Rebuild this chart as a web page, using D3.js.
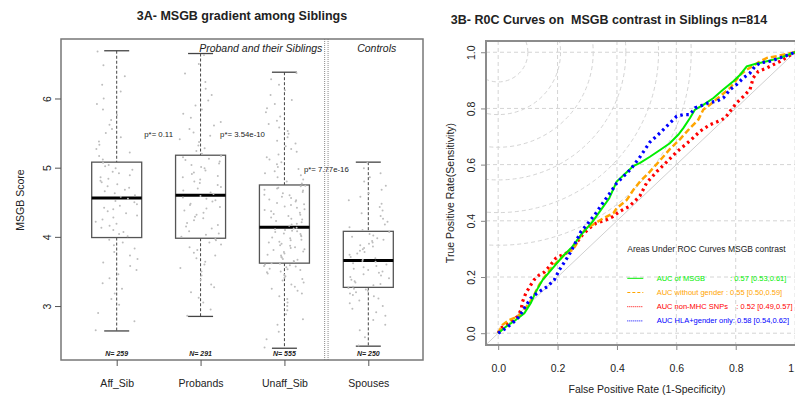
<!DOCTYPE html>
<html>
<head>
<meta charset="utf-8">
<script src="https://cdn.jsdelivr.net/npm/d3@7"></script>
<style>
body { margin: 0; background: #fff; }
text { font-family: "Liberation Sans", Arial, sans-serif; fill: #222; }
</style>
</head>
<body>
<svg id="chart" width="795" height="399"></svg>
<script>
// ---- 3A data (box stats) ----
const groups = ["Aff_Sib", "Probands", "Unaff_Sib", "Spouses"];
const groupN = [259, 291, 555, 250];
const whiskLo = [2.64, 2.85, 2.39, 2.42];
const q1 = [3.99, 3.98, 3.62, 3.27];
const med = [4.56, 4.60, 4.14, 3.66];
const q3 = [5.08, 5.18, 4.75, 4.08];
const whiskHi = [6.69, 6.65, 6.38, 5.08];
const pLabels = ["p*= 0.11", "p*= 3.54e-10", "p*= 7.77e-16"];
const pY = [5.48, 5.48, 4.98];
const scoreTicks = [3, 4, 5, 6];

// jittered scores (estimated, a sample of each group)
const affScores = [2.65,2.78,2.9,3.02,3.1,3.18,3.25,3.33,3.4,3.46,3.52,3.58,3.63,3.68,3.73,3.78,3.83,3.88,3.92,3.96,
  4.01,4.04,4.07,4.1,4.13,4.16,4.19,4.22,4.25,4.28,4.31,4.34,4.37,4.4,4.42,4.45,4.47,4.5,4.52,4.55,
  4.58,4.6,4.63,4.66,4.68,4.71,4.73,4.76,4.79,4.81,4.84,4.86,4.89,4.92,4.94,4.97,4.99,5.02,5.04,5.07,
  5.12,5.17,5.22,5.27,5.33,5.38,5.44,5.5,5.56,5.62,5.69,5.76,5.84,5.92,6.0,6.1,6.2,6.32,6.48,6.68];
const probScores = [2.86,2.95,3.05,3.12,3.2,3.27,3.31,3.38,3.44,3.5,3.55,3.6,3.64,3.69,3.73,3.77,3.81,3.85,3.89,3.92,3.95,3.97,
  4.0,4.03,4.05,4.08,4.12,4.15,4.17,4.2,4.24,4.27,4.29,4.32,4.35,4.38,4.41,4.43,4.46,4.48,4.51,4.53,4.55,4.57,4.59,
  4.62,4.64,4.67,4.7,4.72,4.75,4.78,4.8,4.83,4.86,4.88,4.91,4.93,4.96,4.99,5.01,5.04,5.06,5.09,5.11,5.13,5.15,5.17,
  5.2,5.24,5.28,5.32,5.37,5.41,5.46,5.51,5.56,5.61,5.66,5.72,5.78,5.84,5.9,5.97,6.05,6.14,6.24,6.36,6.5,6.63];
const unaffScores = [2.4,2.52,2.63,2.73,2.81,2.88,2.94,3.0,3.05,3.1,3.14,3.18,3.22,3.25,3.28,3.31,3.34,3.37,3.39,3.41,3.43,3.45,3.47,3.49,3.5,3.52,3.53,3.54,3.56,3.57,3.58,3.59,3.6,3.61,3.62,
  3.64,3.65,3.67,3.68,3.7,3.71,3.73,3.74,3.76,3.78,3.79,3.81,3.82,3.84,3.85,3.87,3.88,3.9,3.92,3.93,3.95,3.96,3.98,3.99,4.01,4.02,4.04,4.05,4.07,4.08,4.09,4.1,4.11,4.12,4.13,
  4.16,4.18,4.19,4.21,4.23,4.25,4.26,4.28,4.3,4.32,4.33,4.35,4.37,4.39,4.4,4.42,4.44,4.46,4.47,4.49,4.51,4.53,4.54,4.56,4.58,4.6,4.61,4.63,4.65,4.67,4.68,4.7,4.71,4.73,4.74,
  4.77,4.8,4.83,4.86,4.89,4.92,4.95,4.98,5.01,5.05,5.08,5.12,5.15,5.19,5.23,5.27,5.31,5.35,5.39,5.44,5.49,5.53,5.58,5.63,5.68,5.74,5.8,5.86,5.92,5.98,6.05,6.12,6.2,6.28,6.37];
const spouseScores = [2.43,2.55,2.65,2.73,2.8,2.86,2.91,2.96,3.0,3.04,3.08,3.11,3.14,3.16,3.18,3.2,3.22,3.24,3.25,3.26,
  3.28,3.3,3.32,3.34,3.36,3.38,3.4,3.42,3.44,3.46,3.48,3.5,3.52,3.54,3.56,3.58,3.6,3.62,3.64,3.65,
  3.67,3.69,3.71,3.74,3.76,3.78,3.8,3.82,3.84,3.86,3.88,3.9,3.92,3.94,3.96,3.98,4.0,4.02,4.04,4.07,
  4.1,4.14,4.18,4.22,4.26,4.3,4.34,4.38,4.43,4.48,4.53,4.58,4.63,4.68,4.74,4.8,4.86,4.92,4.99,5.07];

// ---- 3B data (ROC points, [fpr, tpr]) ----
const rocMSGB = [[0,0],[.026,.023],[.059,.047],[.088,.071],[.11,.107],[.127,.148],[.15,.19],[.183,.231],[.217,.273],[.25,.308],
  [.279,.35],[.318,.397],[.346,.439],[.374,.48],[.399,.54],[.43,.57],[.455,.595],[.478,.606],[.511,.628],[.545,.652],[.578,.676],
  [.607,.707],[.624,.731],[.646,.766],[.663,.796],[.691,.813],[.725,.837],[.758,.867],[.792,.897],[.815,.92],[.837,.95],
  [.865,.958],[.905,.968],[.95,.98],[.994,.998],[1,1]];
const rocNoGender = [[0,0],[.015,.03],[.037,.047],[.065,.059],[.082,.077],[.105,.107],[.121,.136],[.138,.172],[.161,.207],[.183,.237],
  [.206,.261],[.228,.285],[.25,.296],[.262,.314],[.273,.338],[.296,.374],[.309,.38],[.354,.409],[.388,.427],[.399,.445],[.433,.474],
  [.455,.51],[.478,.54],[.511,.575],[.545,.615],[.578,.655],[.612,.69],[.646,.73],[.674,.76],[.691,.796],[.713,.813],[.747,.843],
  [.781,.873],[.815,.92],[.837,.938],[.865,.956],[.882,.968],[.905,.98],[.938,.986],[.972,.994],[1,1]];
const rocNonMHC = [[0,0],[.009,.018],[.026,.03],[.048,.047],[.065,.059],[.077,.083],[.082,.112],[.093,.142],[.11,.172],[.121,.19],
  [.138,.207],[.155,.217],[.172,.237],[.194,.267],[.217,.279],[.239,.29],[.267,.326],[.284,.35],[.307,.374],[.329,.391],[.363,.403],
  [.386,.415],[.408,.433],[.441,.451],[.464,.474],[.478,.49],[.5,.535],[.534,.575],[.568,.61],[.601,.645],[.646,.685],[.68,.719],
  [.713,.742],[.741,.754],[.764,.766],[.781,.79],[.803,.82],[.826,.843],[.848,.867],[.859,.909],[.876,.932],[.905,.944],
  [.927,.956],[.95,.968],[.972,.982],[1,1]];
const rocHLA = [[0,0],[.026,.018],[.048,.036],[.071,.059],[.088,.089],[.11,.125],[.138,.148],[.166,.166],[.189,.19],[.206,.225],
  [.228,.261],[.245,.29],[.262,.326],[.279,.362],[.298,.385],[.329,.427],[.352,.463],[.38,.504],[.399,.534],[.444,.581],[.478,.628],
  [.511,.68],[.545,.713],[.578,.748],[.601,.772],[.624,.778],[.646,.778],[.663,.802],[.68,.808],[.708,.82],[.736,.826],[.758,.837],
  [.781,.867],[.803,.885],[.826,.909],[.848,.926],[.865,.95],[.882,.962],[.916,.968],[.95,.98],[.983,.993],[1,1]];
const rocLabels = ["AUC of MSGB            : 0.57 [0.53,0.61]",
                   "AUC without gender : 0.55 [0.50,0.59]",
                   "AUC non-MHC SNPs    : 0.52 [0.49,0.57]",
                   "AUC HLA+gender only: 0.58 [0.54,0.62]"];
const rocTicks = [0, 0.2, 0.4, 0.6, 0.8, 1];
const isoRadii = [0.1, 0.21, 0.32, 0.43, 0.54, 0.65];

const svg = d3.select("#chart");

// =============== 3A boxplot ===============
const left = {x0: 61, x1: 423, y0: 39, y1: 360};
const x = d3.scalePoint().domain(groups).range([116.7, 368.3]);
const y = d3.scaleLinear().domain([2.22, 6.86]).range([left.y1, left.y0]);
const groupScores = [affScores, probScores, unaffScores, spouseScores];

// horizontal scatter of the dots (layout only, like R's jitter)
const spread = (i, g) => {
  const s = Math.sin(i * 12.9898 + g * 78.233) * 43758.5453;
  return s - Math.floor(s) - 0.5;
};

svg.append("text")
  .attr("x", 242).attr("y", 19.5)
  .attr("text-anchor", "middle")
  .style("font-size", "12.5px").style("font-weight", "bold")
  .text("3A- MSGB gradient among Siblings");

const boxes = svg.append("g").selectAll("g")
  .data(groups)
  .enter().append("g");

// whiskers
boxes.append("line")
  .attr("x1", d => x(d)).attr("x2", d => x(d))
  .attr("y1", (d, i) => y(whiskHi[i])).attr("y2", (d, i) => y(q3[i]))
  .attr("stroke", "#444").attr("stroke-dasharray", "3,2");
boxes.append("line")
  .attr("x1", d => x(d)).attr("x2", d => x(d))
  .attr("y1", (d, i) => y(q1[i])).attr("y2", (d, i) => y(whiskLo[i]))
  .attr("stroke", "#444").attr("stroke-dasharray", "3,2");
boxes.append("line")
  .attr("x1", d => x(d) - 12.5).attr("x2", d => x(d) + 12.5)
  .attr("y1", (d, i) => y(whiskHi[i])).attr("y2", (d, i) => y(whiskHi[i]))
  .attr("stroke", "#444").attr("stroke-width", 1.3);
boxes.append("line")
  .attr("x1", d => x(d) - 12.5).attr("x2", d => x(d) + 12.5)
  .attr("y1", (d, i) => y(whiskLo[i])).attr("y2", (d, i) => y(whiskLo[i]))
  .attr("stroke", "#444").attr("stroke-width", 1.3);
boxes.append("rect")
  .attr("x", d => x(d) - 25).attr("width", 50)
  .attr("y", (d, i) => y(q3[i]))
  .attr("height", (d, i) => y(q1[i]) - y(q3[i]))
  .attr("fill", "none").attr("stroke", "#555").attr("stroke-width", 1.3);
boxes.append("line")
  .attr("x1", d => x(d) - 25).attr("x2", d => x(d) + 25)
  .attr("y1", (d, i) => y(med[i])).attr("y2", (d, i) => y(med[i]))
  .attr("stroke", "#000").attr("stroke-width", 3);

// jitter dots on top of the boxes
groupScores.forEach((scores, g) => {
  svg.append("g").selectAll("circle")
    .data(scores)
    .enter().append("circle")
    .attr("cx", (d, i) => x(groups[g]) + spread(i, g) * 42)
    .attr("cy", d => y(d))
    .attr("r", 1)
    .attr("fill", "#bdbdbd");
});

boxes.append("text")
  .attr("x", d => x(d)).attr("y", left.y1 - 6.7)
  .attr("text-anchor", "middle").attr("dominant-baseline", "central")
  .style("font-size", "7px").style("font-weight", "bold").style("font-style", "italic")
  .text((d, i) => "N= " + groupN[i]);

// p-values between neighbouring groups
svg.append("g").selectAll("text")
  .data(pLabels)
  .enter().append("text")
  .attr("x", (d, i) => (x(groups[i]) + x(groups[i + 1])) / 2)
  .attr("y", (d, i) => y(pY[i]))
  .attr("text-anchor", "middle").attr("dominant-baseline", "central")
  .style("font-size", "7.8px")
  .text(d => d);

// separator between siblings and controls
const sepX = (x(groups[2]) + x(groups[3])) / 2;
[-1.7, 1.7].forEach(o => {
  svg.append("line")
    .attr("x1", sepX + o).attr("x2", sepX + o)
    .attr("y1", left.y0).attr("y2", left.y1)
    .attr("stroke", "#888").attr("stroke-dasharray", "1,1");
});
svg.append("text")
  .attr("x", sepX - 4).attr("y", 47.7)
  .attr("text-anchor", "end").attr("dominant-baseline", "central")
  .style("font-size", "10.5px").style("font-style", "italic")
  .text("Proband and their Siblings");
svg.append("text")
  .attr("x", (sepX + left.x1) / 2 + 2).attr("y", 47.7)
  .attr("text-anchor", "middle").attr("dominant-baseline", "central")
  .style("font-size", "10.5px").style("font-style", "italic")
  .text("Controls");

// frame
svg.append("rect")
  .attr("x", left.x0).attr("y", left.y0)
  .attr("width", left.x1 - left.x0).attr("height", left.y1 - left.y0)
  .attr("fill", "none").attr("stroke", "#777").attr("stroke-width", 1.5);

// axes
const yAxis = svg.append("g")
  .attr("transform", `translate(${left.x0},0)`)
  .call(d3.axisLeft(y).tickValues(scoreTicks).tickSize(6).tickFormat(d3.format("d")));
yAxis.select(".domain").remove();
yAxis.selectAll(".tick line").attr("stroke", "#555");
yAxis.selectAll(".tick text")
  .attr("transform", "rotate(-90)")
  .attr("x", 0).attr("y", -14.3).attr("dy", null)
  .attr("text-anchor", "middle").attr("dominant-baseline", "central")
  .style("font-size", "10.5px").style("font-family", null).attr("fill", "#222");

const xAxis = svg.append("g")
  .attr("transform", `translate(0,${left.y1})`)
  .call(d3.axisBottom(x).tickSize(6).tickPadding(14));
xAxis.select(".domain").remove();
xAxis.selectAll(".tick line").attr("stroke", "#555");
xAxis.selectAll(".tick text")
  .style("font-size", "10.5px").style("font-family", null).attr("fill", "#222");

svg.append("text")
  .attr("transform", "translate(20,200) rotate(-90)")
  .attr("text-anchor", "middle").attr("dominant-baseline", "central")
  .style("font-size", "10.5px")
  .text("MSGB Score");

// =============== 3B ROC ===============
const right = {x0: 486, x1: 807, y0: 41, y1: 345};
const fx = d3.scaleLinear().domain([-0.041, 1.04]).range([right.x0, right.x1]);
const fy = d3.scaleLinear().domain([-0.042, 1.04]).range([right.y1, right.y0]);

svg.append("text")
  .attr("x", 609).attr("y", 23.5)
  .attr("text-anchor", "middle")
  .style("font-size", "12.5px").style("font-weight", "bold")
  .style("white-space", "pre")
  .text("3B- R0C Curves on  MSGB contrast in Siblings n=814");

svg.append("clipPath").attr("id", "rocClip")
  .append("rect")
  .attr("x", right.x0).attr("y", right.y0)
  .attr("width", right.x1 - right.x0).attr("height", right.y1 - right.y0);

const plot = svg.append("g").attr("clip-path", "url(#rocClip)");

// grid
plot.selectAll(".vgrid")
  .data(rocTicks)
  .enter().append("line")
  .attr("x1", d => fx(d)).attr("x2", d => fx(d))
  .attr("y1", right.y0).attr("y2", right.y1)
  .attr("stroke", "#d4d4d4").attr("stroke-dasharray", "4,3");
plot.selectAll(".hgrid")
  .data(rocTicks)
  .enter().append("line")
  .attr("x1", right.x0).attr("x2", right.x1)
  .attr("y1", d => fy(d)).attr("y2", d => fy(d))
  .attr("stroke", "#d4d4d4").attr("stroke-dasharray", "4,3");
plot.selectAll(".iso")
  .data(isoRadii)
  .enter().append("circle")
  .attr("cx", fx(0)).attr("cy", fy(1))
  .attr("r", d => fx(d) - fx(0))
  .attr("fill", "none")
  .attr("stroke", "#d4d4d4").attr("stroke-dasharray", "4,3");

// chance diagonal
plot.append("line")
  .attr("x1", fx(-0.05)).attr("y1", fy(-0.05))
  .attr("x2", fx(1.05)).attr("y2", fy(1.05))
  .attr("stroke", "#d0d0d0").attr("stroke-width", 1);

const rocSeries = [
  {pts: rocMSGB, color: "#00ee00", dash: null, width: 2, legDash: null},
  {pts: rocNoGender, color: "#ffa500", dash: "6,3", width: 2.5, legDash: "3,2"},
  {pts: rocNonMHC, color: "#ff0000", dash: "2.5,3.5", width: 3.2, legDash: "1,1"},
  {pts: rocHLA, color: "#0000ff", dash: "2.5,3.5", width: 3.2, legDash: "1,1"}
];
const line = d3.line().x(d => fx(d[0])).y(d => fy(d[1]));

// draw non-MHC and no-gender first, then MSGB, HLA on top
[2, 1, 0, 3].forEach(k => {
  const s = rocSeries[k];
  plot.append("path")
    .datum(s.pts)
    .attr("d", line)
    .attr("fill", "none")
    .attr("stroke", s.color)
    .attr("stroke-width", s.width)
    .attr("stroke-dasharray", s.dash);
});

// frame
svg.append("rect")
  .attr("x", right.x0).attr("y", right.y0)
  .attr("width", right.x1 - right.x0).attr("height", right.y1 - right.y0)
  .attr("fill", "none").attr("stroke", "#8c8c8c").attr("stroke-width", 2);

const bx = svg.append("g")
  .attr("transform", `translate(0,${right.y1})`)
  .call(d3.axisBottom(fx).tickValues(rocTicks).tickSize(5).tickPadding(15).tickFormat(d3.format(".1f")));
bx.select(".domain").remove();
bx.selectAll(".tick line").attr("stroke", "#888");
bx.selectAll(".tick text").style("font-size", "10.5px").style("font-family", null).attr("fill", "#222");

const by = svg.append("g")
  .attr("transform", `translate(${right.x0},0)`)
  .call(d3.axisLeft(fy).tickValues(rocTicks).tickSize(5).tickFormat(d3.format(".1f")));
by.select(".domain").remove();
by.selectAll(".tick line").attr("stroke", "#888");
by.selectAll(".tick text")
  .attr("transform", "rotate(-90)")
  .attr("x", 0).attr("y", -15.3).attr("dy", null)
  .attr("text-anchor", "middle").attr("dominant-baseline", "central")
  .style("font-size", "10.5px").style("font-family", null).attr("fill", "#222");

svg.append("text")
  .attr("transform", `translate(450,${(right.y0 + right.y1) / 2}) rotate(-90)`)
  .attr("text-anchor", "middle").attr("dominant-baseline", "central")
  .style("font-size", "10.5px")
  .text("True Positive Rate(Sensitivity)");
svg.append("text")
  .attr("x", 647).attr("y", 389.3)
  .attr("text-anchor", "middle").attr("dominant-baseline", "central")
  .style("font-size", "10.5px")
  .text("False Positive Rate (1-Specificity)");

// legend
svg.append("text")
  .attr("x", 627.3).attr("y", 248.7)
  .attr("dominant-baseline", "central")
  .style("font-size", "8.5px")
  .text("Areas Under ROC Curves MSGB contrast");
const leg = svg.append("g").selectAll("g")
  .data(rocSeries)
  .enter().append("g")
  .attr("transform", (d, i) => `translate(0,${278.3 + i * 14.2})`);
leg.append("line")
  .attr("x1", 627.3).attr("x2", 643.3)
  .attr("stroke", d => d.color).attr("stroke-width", 1)
  .attr("stroke-dasharray", d => d.legDash);
leg.append("text")
  .attr("x", 656.7)
  .attr("dominant-baseline", "central")
  .style("font-size", "7.5px")
  .style("white-space", "pre")
  .style("fill", d => d.color)
  .text((d, i) => rocLabels[i]);
</script>
</body>
</html>
